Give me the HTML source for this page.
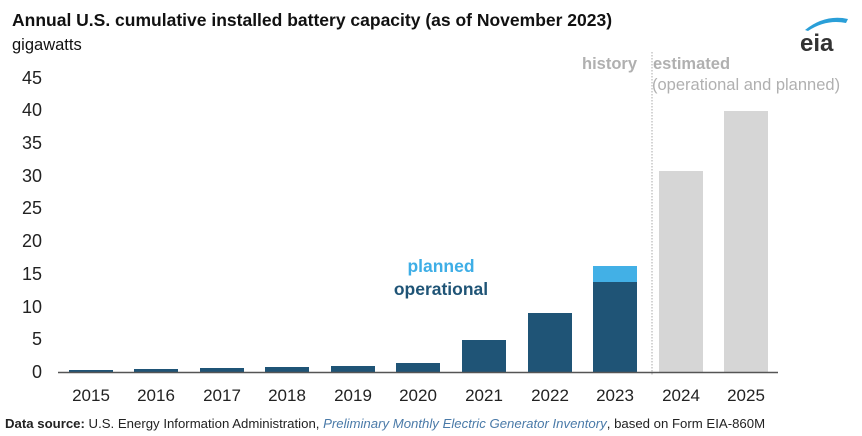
<!DOCTYPE html>
<html><head><meta charset="utf-8"><style>
body{margin:0;background:#fff;}
svg{display:block;font-family:"Liberation Sans",Arial,sans-serif;}
</style></head><body>
<svg width="862" height="436" viewBox="0 0 862 436" xmlns="http://www.w3.org/2000/svg">
<text x="12" y="26" font-size="17.5" font-weight="bold" fill="#111">Annual U.S. cumulative installed battery capacity (as of November 2023)</text>
<text x="12" y="50" font-size="16.5" fill="#111">gigawatts</text>
<path d="M805 30 Q825 14 848 19 L846 23 Q826 19 808 31 Z" fill="#2a9fd8"/>
<text x="800" y="51" font-size="24" fill="#333" font-weight="bold">eia</text>
<g font-size="18" fill="#222" text-anchor="end">
<text x="42" y="378">0</text>
<text x="42" y="345">5</text>
<text x="42" y="313">10</text>
<text x="42" y="280">15</text>
<text x="42" y="247">20</text>
<text x="42" y="214">25</text>
<text x="42" y="182">30</text>
<text x="42" y="149">35</text>
<text x="42" y="116">40</text>
<text x="42" y="84">45</text>
</g>
<g fill="#1f5476">
<rect x="69" y="370" width="44" height="2"/>
<rect x="134" y="369" width="44" height="3"/>
<rect x="200" y="368" width="44" height="4"/>
<rect x="265" y="367" width="44" height="5"/>
<rect x="331" y="366" width="44" height="6"/>
<rect x="396" y="363" width="44" height="9"/>
<rect x="462" y="340" width="44" height="32"/>
<rect x="528" y="313" width="44" height="59"/>
<rect x="593" y="282" width="44" height="90"/>
</g>
<rect x="593" y="266" width="44" height="16" fill="#42b0e6"/>
<rect x="659" y="171" width="44" height="201" fill="#d6d6d6"/>
<rect x="724" y="111" width="44" height="261" fill="#d6d6d6"/>
<line x1="652" y1="52" x2="652" y2="376" stroke="#aaa" stroke-width="1" stroke-dasharray="1.5,1.5"/>
<line x1="58" y1="372.5" x2="778" y2="372.5" stroke="#555" stroke-width="1.5"/>
<g font-size="17" fill="#222" text-anchor="middle">
<text x="91" y="401">2015</text><text x="156" y="401">2016</text><text x="222" y="401">2017</text>
<text x="287" y="401">2018</text><text x="353" y="401">2019</text><text x="418" y="401">2020</text>
<text x="484" y="401">2021</text><text x="550" y="401">2022</text><text x="615" y="401">2023</text>
<text x="681" y="401">2024</text><text x="746" y="401">2025</text>
</g>
<text x="441" y="272" font-size="17.5" font-weight="bold" fill="#3eaee6" text-anchor="middle">planned</text>
<text x="441" y="295" font-size="17.5" font-weight="bold" fill="#1f5476" text-anchor="middle">operational</text>
<text x="637" y="69" font-size="16.5" font-weight="bold" fill="#b0b0b0" text-anchor="end">history</text>
<text x="653" y="69" font-size="16.5" font-weight="bold" fill="#b0b0b0">estimated</text>
<text x="652" y="90" font-size="16.5" fill="#b0b0b0">(operational and planned)</text>
<text x="5" y="428" font-size="13.2" fill="#222"><tspan font-weight="bold">Data source:</tspan> U.S. Energy Information Administration, <tspan font-style="italic" fill="#4a7aa8">Preliminary Monthly Electric Generator Inventory</tspan>, based on Form EIA-860M</text>
</svg>
</body></html>
